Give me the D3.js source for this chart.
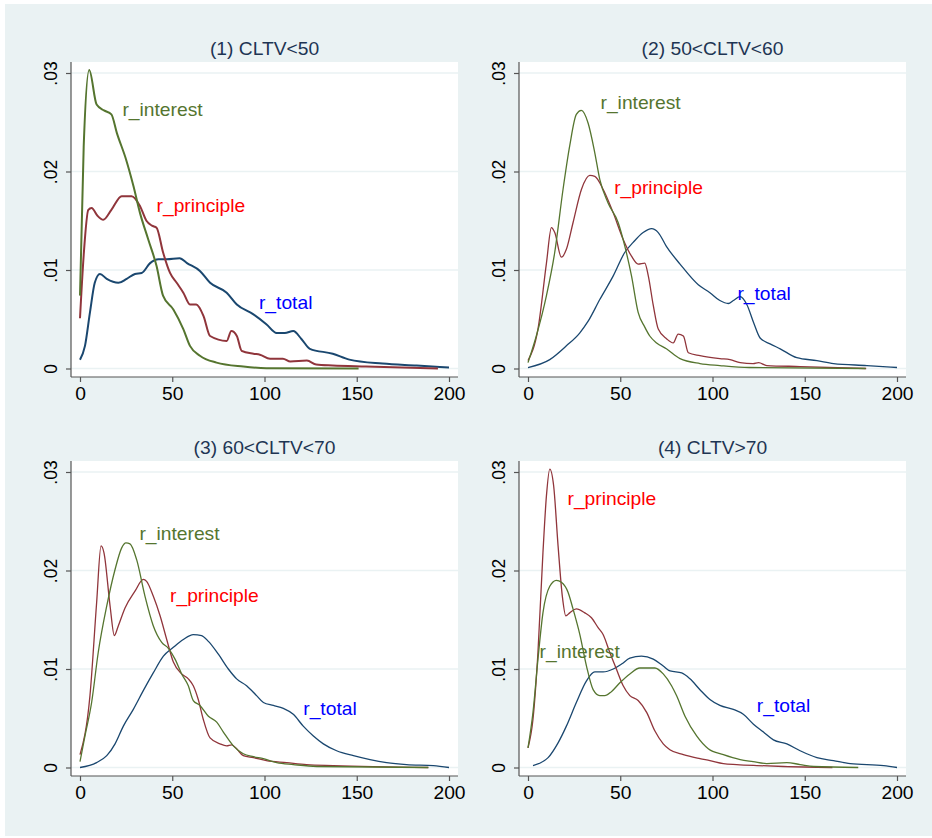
<!DOCTYPE html>
<html>
<head>
<meta charset="utf-8">
<script src="https://cdn.jsdelivr.net/npm/d3@7"></script>
<style>
  body { margin: 0; background: #fff; }
  text { font-family: "Liberation Sans", Arial, sans-serif; }
</style>
</head>
<body>
<div id="chart"></div>
<script>
// kernel density curves
const panelTitles = ["(1) CLTV<50", "(2) 50<CLTV<60", "(3) 60<CLTV<70", "(4) CLTV>70"];
const seriesNames = ["r_total", "r_principle", "r_interest"];
const xTicks = [0, 50, 100, 150, 200];
const yTicks = [0, 0.01, 0.02, 0.03];
const yTickLabels = ["0", ".01", ".02", ".03"];

// panel 1
const p1Total = [[0,.0009],[2.7,.0023],[5.4,.0057],[8,.0087],[10.8,.0096],[14.5,.0091],[20.8,.0087],[25.3,.0091],[29.8,.0096],[33.4,.0097],[38,.0107],[42.5,.0111],[47,.0111],[54,.0112],[58,.0107],[65,.0099],[70.5,.0087],[79.5,.0077],[85,.0065],[94,.0055],[101,.0045],[106.6,.0036],[111,.0036],[115.6,.0038],[120,.003],[124.6,.002],[137,.0015],[146,.0009],[164,.0005],[182.5,.0003],[200,.0001]];
const p1Principle = [[0,.0051],[2,.0115],[4.5,.0161],[6.3,.0163],[9.5,.0155],[12.6,.0151],[17,.0161],[22.6,.0175],[28,.0175],[32.5,.0165],[36,.015],[39,.0145],[41.5,.0143],[45,.0118],[48.8,.0097],[52.4,.0087],[56,.0077],[59.6,.0065],[63,.0065],[67,.0053],[70.5,.0033],[79.5,.0028],[82,.0038],[85,.0033],[87.6,.0018],[94,.0015],[97.5,.0014],[103,.001],[110,.001],[114,.0007],[123,.0008],[128,.0004],[137,.0003],[155,.0002],[194,0]];
const p1Interest = [[0,.0074],[2,.0225],[5,.0303],[9,.0268],[13,.0262],[17,.0258],[20,.0239],[25,.0212],[29,.0185],[32.5,.0158],[37,.0131],[41.5,.0104],[45,.0074],[50.6,.006],[56,.004],[59.6,.0023],[65,.0013],[74,.0006],[88.5,.0002],[101,.00003],[151,0]];

// panel 2
const p2Total = [[0,.0001],[11.8,.0009],[20.8,.0023],[28,.0036],[32.6,.0048],[38.9,.007],[46.2,.0094],[52.5,.0118],[57,.0128],[62.4,.0138],[67,.0142],[70.6,.0138],[75,.0124],[82.4,.0106],[92.3,.0085],[98.6,.0077],[104,.0069],[108.6,.0066],[111.3,.0069],[115,.0073],[118.6,.0065],[122.2,.0047],[125.8,.0031],[131.2,.0025],[136.7,.002],[145.7,.0011],[156.6,.0008],[165.6,.0005],[183.7,.0003],[200,.0001]];
const p2Principle = [[0,.0008],[5.4,.004],[10,.0107],[12.7,.0143],[14.5,.0138],[18.1,.0113],[20.8,.0121],[24.4,.0148],[29,.0182],[33.5,.0196],[36.2,.0195],[40.7,.0182],[46.2,.0158],[51.6,.0131],[56.1,.0114],[59.7,.0106],[63.3,.0107],[65.2,.0094],[67.9,.0064],[70.6,.004],[75.2,.003],[78.7,.0026],[81.4,.0035],[84.2,.0033],[86.9,.0016],[93.2,.0013],[104,.001],[109.5,.0009],[115,.0006],[122,.0005],[125,.0006],[129.4,.0003],[147.5,.0002],[183.3,0]];
const p2Interest = [[0,.0006],[4.5,.0033],[10,.0074],[14.5,.0118],[19,.0182],[22.6,.0226],[26.2,.0258],[28.9,.0262],[32.6,.0249],[36.2,.0219],[38.9,.0192],[43.4,.0168],[48.9,.0148],[52.5,.0124],[56.1,.0094],[59.7,.0057],[63.3,.0042],[66,.0033],[69.7,.0026],[75,.002],[82.4,.001],[93.2,.0005],[104,.0003],[120,.0001],[183,0]];

// panel 3
const p3Total = [[0,0],[9,.0005],[14.5,.0012],[19,.0024],[23.5,.0042],[28.9,.0059],[34.3,.0078],[39.7,.0096],[45.2,.0113],[50.6,.0122],[56,.013],[61.4,.0135],[65.9,.0134],[69.6,.0128],[75,.0115],[80.4,.01],[84.9,.009],[90.3,.0083],[95.7,.0073],[99.4,.0066],[104.8,.0063],[110.2,.006],[115.6,.0054],[121,.0042],[126.5,.0032],[131.9,.0024],[139.1,.0017],[148.2,.0012],[157.2,.0008],[166.2,.0005],[177,.0003],[191.5,.0002],[200,0]];
const p3Principle = [[0,.0013],[5.4,.0073],[9,.0167],[11.4,.0225],[13,.0218],[16.3,.0164],[18.6,.0134],[20.8,.0144],[24.4,.0162],[29.8,.0179],[34.3,.0191],[36.1,.0189],[39.7,.0174],[43.4,.0154],[47,.013],[50.6,.0107],[55.1,.0095],[58.7,.009],[61.4,.0083],[64.1,.0069],[66.8,.0049],[70.5,.003],[75.9,.0024],[79.5,.0022],[82.2,.0023],[84.9,.0019],[88.5,.0012],[94,.001],[101,.0007],[112,.0005],[122.8,.0003],[137.3,.0002],[188.8,0]];
const p3Interest = [[0,.0006],[2.7,.0032],[6.3,.0066],[9.9,.0117],[14.5,.0164],[19,.0201],[22.6,.0223],[24.9,.0228],[27.1,.0227],[30.7,.0211],[35.2,.0174],[39.7,.0144],[44.3,.0127],[47.9,.0121],[51.5,.011],[55.1,.0095],[58.7,.0083],[61.4,.0068],[65,.0063],[69.6,.0052],[74.1,.0046],[77.7,.0036],[83.1,.0022],[88.5,.0014],[94,.0011],[99.4,.0009],[106.6,.0005],[115.6,.0003],[128.3,.0001],[188.8,0]];

// panel 4
const p4Total = [[2.7,.0002],[10.9,.001],[16.3,.0025],[20.8,.0042],[26.2,.0066],[31.7,.0088],[36.2,.0097],[40.7,.0097],[46.2,.01],[50.7,.0105],[55.2,.0111],[61.5,.0113],[67.9,.011],[73.3,.0103],[77,.0098],[83.3,.0096],[87.8,.009],[93.2,.0079],[98.6,.0069],[104,.0063],[111.3,.0059],[116.7,.0054],[122.2,.0044],[127.6,.0036],[133,.0028],[140.3,.0024],[147.5,.0017],[156.6,.001],[165.6,.0007],[174.7,.0004],[192.8,.0002],[200,0]];
const p4Principle = [[0,.002],[2.7,.0049],[5.4,.0117],[8.1,.0218],[10,.0276],[11.8,.0303],[13.9,.0286],[16.3,.0225],[18.6,.0174],[20.5,.0154],[22.6,.0157],[26.2,.0161],[30.8,.0157],[34.4,.0152],[38,.0142],[40.7,.0135],[44.3,.0117],[47.9,.01],[51.6,.0083],[55.2,.0073],[59.7,.0068],[64.3,.0056],[68.8,.0037],[73.3,.0024],[76.9,.0018],[84.2,.0013],[93.2,.0009],[98.6,.0007],[105.9,.0004],[113.1,.0003],[124,.0002],[138.5,.0001],[165,0]];
const p4Interest = [[0,.002],[2.7,.0056],[5.4,.011],[8.1,.0157],[11.8,.0184],[15.4,.019],[18.1,.0188],[21.7,.0178],[24.4,.0161],[28.1,.0135],[31.7,.0103],[35.3,.0079],[38.9,.0073],[41.6,.0073],[45.2,.0077],[49.8,.0086],[55.2,.0095],[60.6,.0101],[65.2,.0101],[68.8,.0101],[73.3,.0095],[77.8,.0083],[80.5,.0073],[85.1,.0052],[91.4,.0032],[97.7,.0019],[105.9,.0013],[115,.0008],[122,.0006],[129.4,.0004],[140.3,.0005],[147.5,.0003],[154.8,.0001],[179,0]];

// label anchors (x, y in data units), order: total, principle, interest
const labelPos = [
  [[97, .0067], [41.5, .0165], [23, .0263]],
  [[113.5, .0076], [46.7, .0183], [39.3, .027]],
  [[121, .006], [48.8, .0174], [32.2, .0237]],
  [[124, .0063], [21.4, .0273], [6.3, .0117]]
];

const panelData = [
  [p1Total, p1Principle, p1Interest],
  [p2Total, p2Principle, p2Interest],
  [p3Total, p3Principle, p3Interest],
  [p4Total, p4Principle, p4Interest]
];

const lineColors = ["#1a476f", "#90353b", "#55752f"];
const labelColors = ["#0000ff", "#ff0000", "#55752f"];

const W = 932, H = 838;
const pw = 387, ph = 315;
const origins = [[71, 62], [519, 62], [71, 461], [519, 461]];
const sx = 1.1; // text is a bit wide in the original

const svg = d3.select("#chart").append("svg")
  .attr("width", W).attr("height", H);

svg.append("rect").attr("x", 5).attr("y", 4)
  .attr("width", W - 5).attr("height", H - 6)
  .attr("fill", "#eaf2f3");

panelData.forEach((series, i) => {
  const [left, top] = origins[i];
  const x = d3.scaleLinear().domain([0, 200]).range([left + 9, left + pw - 9]);
  const y = d3.scaleLinear().domain([0, 0.03]).range([top + ph - 8.5, top + 11]);
  const g = svg.append("g");

  g.append("rect").attr("x", left).attr("y", top)
    .attr("width", pw).attr("height", ph).attr("fill", "#fff");

  // grid
  g.selectAll(".grid").data(yTicks).join("line")
    .attr("x1", left).attr("x2", left + pw)
    .attr("y1", d => y(d)).attr("y2", d => y(d))
    .attr("stroke", "#eaf2f3").attr("stroke-width", 1.5);

  // axes
  const xAxis = g.append("g").attr("transform", `translate(0,${top + ph})`)
    .call(d3.axisBottom(x).tickValues(xTicks).tickSize(5).tickSizeOuter(0).tickPadding(6));
  xAxis.select(".domain").attr("d", `M${left},0H${left + pw}`);
  xAxis.selectAll(".tick text")
    .attr("font-size", 17.5).attr("fill", "#000")
    .attr("transform", `scale(${sx},1)`);

  const yAxis = g.append("g").attr("transform", `translate(${left},0)`)
    .call(d3.axisLeft(y).tickValues(yTicks).tickSize(5).tickSizeOuter(0)
      .tickFormat((d, k) => yTickLabels[k]));
  yAxis.select(".domain").attr("d", `M0,${top}V${top + ph}`);
  yAxis.selectAll(".tick text")
    .attr("font-size", 17.5).attr("fill", "#000")
    .attr("text-anchor", "middle")
    .attr("x", 0).attr("y", 0).attr("dy", null)
    .attr("transform", `translate(-14,0) scale(${sx},1) rotate(-90)`);
  g.selectAll(".domain, .tick line").attr("stroke", "#555").attr("stroke-width", 1.2);

  // curves
  const line = d3.line().x(d => x(d[0])).y(d => y(d[1])).curve(d3.curveMonotoneX);
  series.forEach((s, k) => {
    g.append("path").datum(s)
      .attr("d", line)
      .attr("fill", "none")
      .attr("stroke", lineColors[k])
      .attr("stroke-width", i === 0 ? 2 : 1.3)
      .attr("stroke-linejoin", "round");
  });

  // labels
  labelPos[i].forEach((p, k) => {
    g.append("text")
      .attr("transform", `translate(${x(p[0])},${y(p[1])}) scale(${sx},1)`)
      .attr("dy", "0.35em")
      .attr("font-size", 17.5)
      .attr("fill", labelColors[k])
      .text(seriesNames[k]);
  });

  // title
  g.append("text")
    .attr("transform", `translate(${left + pw / 2},${top - 7}) scale(${sx},1)`)
    .attr("text-anchor", "middle")
    .attr("font-size", 17.5)
    .attr("fill", "#1e3553")
    .text(panelTitles[i]);
});
</script>
</body>
</html>
